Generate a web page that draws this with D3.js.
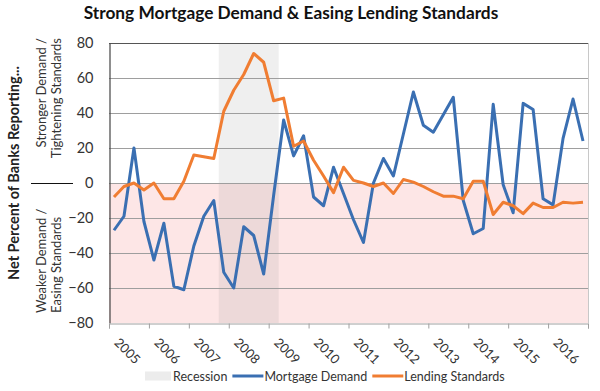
<!DOCTYPE html>
<html>
<head>
<meta charset="utf-8">
<script src="https://cdn.jsdelivr.net/npm/d3@7"></script>
<style>
  body { margin: 0; background: #fff; }
  svg { font-family: Lato, "Open Sans", sans-serif; }
</style>
</head>
<body>
<svg id="chart"></svg>
<script>
// chart data, quarterly 2005-2016
var years = [2005, 2006, 2007, 2008, 2009, 2010, 2011, 2012, 2013, 2014, 2015, 2016];
var quarterNames = ["Q1", "Q2", "Q3", "Q4"];
var quarters = [];
years.forEach(function (y) {
  quarterNames.forEach(function (q) { quarters.push(y + q); });
});

var mortgageDemand = [
  -27, -19, 20, -22, -44, -23, -59, -61,
  -36, -19, -10, -51, -60, -25, -30, -52,
  -7, 36, 15.5, 27, -8, -13, 9, -6,
  -21, -34, 0, 14, 4, 28, 52, 33,
  29, 39, 49, -10, -29, -26, 45, -1,
  -17, 45.5, 42, -9, -12.5, 25.5, 48, 24
];
var lendingStandards = [
  -8, -2, 0, -4, 0, -9, -9, 1,
  16, 15, 14, 41, 53, 62, 74, 69,
  47, 48.5, 21, 24, 13, 4, -5.5, 9,
  1.5, 0, -2, 0, -6, 2, 0.5, -2,
  -5, -7.5, -7.5, -9, 1, 1, -18, -11,
  -13, -17.5, -11.5, -14, -14, -11, -11.5, -11
];
var yTicks = [-80, -60, -40, -20, 0, 20, 40, 60, 80];
var recession = ["2007Q4", "2009Q1"];
var seriesNames = ["Recession", "Mortgage Demand", "Lending Standards"];
var seriesColors = ["#ececec", "#3a6fb2", "#f07d32"];

var W = 600, H = 391;
var plot = { left: 109, right: 588, top: 43, bottom: 323 };

var svg = d3.select("#chart").attr("width", W).attr("height", H);

var x = d3.scaleBand().domain(quarters).range([plot.left, plot.right]);
var xYear = d3.scaleLinear().domain([years[0], years[years.length - 1] + 1]).range([plot.left, plot.right]);
var y = d3.scaleLinear().domain([-80, 80]).range([plot.bottom, plot.top]);

// pink "easing" zone below zero
svg.append("rect")
  .attr("x", plot.left).attr("y", y(0))
  .attr("width", plot.right - plot.left).attr("height", y(-80) - y(0))
  .attr("fill", "#fde6e6");

// recession band
svg.append("rect")
  .attr("x", x(recession[0]))
  .attr("y", plot.top)
  .attr("width", x(recession[1]) + x.bandwidth() - x(recession[0]))
  .attr("height", plot.bottom - plot.top)
  .attr("fill", "rgb(120,120,120)")
  .attr("fill-opacity", 0.12);

// gridlines
svg.append("g")
  .selectAll("line")
  .data(yTicks.slice(1, -1))
  .enter()
  .append("line")
  .attr("x1", plot.left).attr("x2", plot.right)
  .attr("y1", (d) => Math.round(y(d)) + 0.5)
  .attr("y2", (d) => Math.round(y(d)) + 0.5)
  .attr("stroke", "#9e9e9e")
  .attr("stroke-width", 1);

// frame
svg.append("line")
  .attr("x1", plot.left).attr("x2", plot.right)
  .attr("y1", plot.top + 0.5).attr("y2", plot.top + 0.5)
  .attr("stroke", "#555");
svg.append("line")
  .attr("x1", plot.right + 0.5).attr("x2", plot.right + 0.5)
  .attr("y1", plot.top).attr("y2", plot.bottom)
  .attr("stroke", "#c8c8c8");

// y axis
var yAxis = svg.append("g")
  .attr("transform", `translate(${plot.left + 0.5},0)`)
  .call(d3.axisLeft(y).tickValues(yTicks).tickSize(0).tickPadding(16));
yAxis.select(".domain").attr("stroke", "#444").attr("stroke-width", 1.2);
yAxis.selectAll("text")
  .attr("font-size", "14.5px")
  .attr("fill", "#333")
  .attr("font-family", "Lato, sans-serif");

// x axis, ticks on year boundaries
var xAxis = svg.append("g")
  .attr("transform", `translate(0,${plot.bottom + 0.5})`)
  .call(d3.axisBottom(xYear)
    .tickValues(years.concat([years[years.length - 1] + 1]))
    .tickSize(5)
    .tickFormat((d) => (years.indexOf(d) >= 0 ? d : "")));
xAxis.select(".domain").attr("stroke", "#a0a0a0");
xAxis.selectAll(".tick line").attr("stroke", "#a0a0a0");
xAxis.selectAll("text")
  .attr("x", 0).attr("y", 0).attr("dy", 0)
  .attr("text-anchor", "start")
  .attr("transform", "translate(4,20) rotate(45)")
  .attr("font-size", "13px")
  .attr("fill", "#333")
  .attr("font-family", "Lato, sans-serif");

// lines
var line = d3.line()
  .x((d, i) => x(quarters[i]) + x.bandwidth() / 2)
  .y((d) => y(d));

[mortgageDemand, lendingStandards].forEach(function (series, k) {
  svg.append("path")
    .datum(series)
    .attr("d", line)
    .attr("fill", "none")
    .attr("stroke", seriesColors[k + 1])
    .attr("stroke-width", 3)
    .attr("stroke-linejoin", "round");
});

// title
svg.append("text")
  .attr("x", 291).attr("y", 19)
  .attr("text-anchor", "middle")
  .attr("font-size", "17.3px")
  .attr("font-weight", "bold")
  .attr("fill", "#111")
  .text("Strong Mortgage Demand & Easing Lending Standards");

// y axis titles
svg.append("text")
  .attr("transform", "translate(19,173) rotate(-90)")
  .attr("text-anchor", "middle")
  .attr("font-size", "14.5px")
  .attr("font-weight", "bold")
  .attr("fill", "#222")
  .text("Net Percent of Banks Reporting...");

function sideLabel(lines, yPos, anchor) {
  lines.forEach(function (t, i) {
    svg.append("text")
      .attr("transform", `translate(${46 + i * 15},${yPos}) rotate(-90)`)
      .attr("text-anchor", anchor)
      .attr("font-size", "13px")
      .attr("fill", "#333")
      .text(t);
  });
}
sideLabel(["Stronger Demand /", "Tightening Standards"], 38, "end");
sideLabel(["Weaker Demand /", "Easing Standards"], 313, "start");

svg.append("line")
  .attr("x1", 31).attr("x2", 73)
  .attr("y1", Math.round(y(0)) + 0.5).attr("y2", Math.round(y(0)) + 0.5)
  .attr("stroke", "#111");

// legend
var legend = svg.append("g").attr("transform", "translate(145,376)");
var lx = 0;
seriesNames.forEach(function (name, k) {
  if (k == 0) {
    legend.append("rect")
      .attr("x", lx).attr("y", -4.5)
      .attr("width", 26).attr("height", 9)
      .attr("fill", seriesColors[0]);
  } else {
    legend.append("line")
      .attr("x1", lx).attr("x2", lx + 31)
      .attr("y1", 0).attr("y2", 0)
      .attr("stroke", seriesColors[k])
      .attr("stroke-width", 3);
  }
  lx += k == 0 ? 28 : 32;
  var t = legend.append("text")
    .attr("x", lx).attr("y", 4.5)
    .attr("font-size", "12.5px")
    .attr("fill", "#333")
    .text(name);
  lx += t.node().getComputedTextLength() + 5;
});
</script>
</body>
</html>
